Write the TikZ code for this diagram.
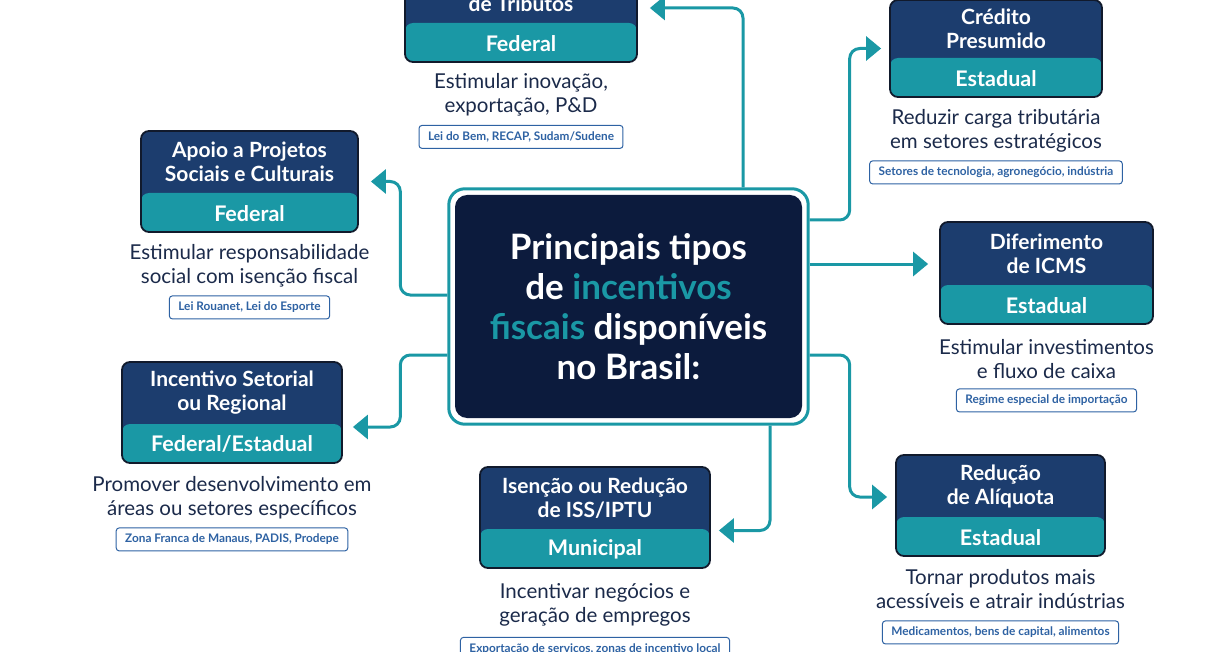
\documentclass[tikz,border=0pt]{standalone}
\usepackage{fontspec}
\setmainfont{Lato}
\usepackage{tikz}
\usetikzlibrary{arrows.meta, positioning, fit}
\definecolor{navy}{HTML}{1C3D6E}
\definecolor{noite}{HTML}{0C1B3D}
\definecolor{azulpet}{HTML}{1A98A5}
\definecolor{borda}{HTML}{111A2C}
\definecolor{tinta}{HTML}{1B2A4A}
\definecolor{azulselo}{HTML}{2E62A3}
\tikzstyle{tipo} = [rectangle, rounded corners=8pt, draw=borda, line width=1.8pt, fill=navy, inner sep=0pt, path picture={\fill[azulpet] ([yshift=39pt]path picture bounding box.south west) rectangle (path picture bounding box.south east);}]
\tikzstyle{titulo} = [text=white, font=\bfseries\fontsize{21}{24}\selectfont, align=center]
\tikzstyle{esfera} = [text=white, font=\bfseries\fontsize{21.5}{24}\selectfont]
\tikzstyle{meta} = [text=tinta, font=\fontsize{20.5}{24}\selectfont, align=center]
\tikzstyle{selo} = [rectangle, rounded corners=3pt, draw=azulselo, line width=1pt, fill=white, text=azulselo, font=\bfseries\fontsize{11.8}{13}\selectfont, minimum height=23pt, inner xsep=9pt]
\tikzstyle{nucleo} = [rectangle, rounded corners=12pt, fill=noite, minimum width=347pt, minimum height=223pt, text=white, font=\bfseries\fontsize{35}{40}\selectfont, align=center]
\tikzstyle{moldura} = [rectangle, rounded corners=16pt, draw=azulpet, line width=3pt]
\tikzstyle{conn} = [draw=azulpet, line width=3pt, rounded corners=10pt, -{Triangle[width=24pt,length=15pt]}]

\begin{document}
\begin{tikzpicture}[x=1pt, y=-1pt]

\useasboundingbox (0,0) rectangle (1230,652);
\clip (0,0) rectangle (1230,652);

% centro
\node[nucleo] (centro) at (628.5,306.5) {Principais tipos\\de \textcolor{azulpet}{incentivos}\\\textcolor{azulpet}{fiscais} disponíveis\\no Brasil:};
\node[moldura, fit=(centro), inner sep=6pt] (moldura) {};

% tributos (topo)
\node[tipo, minimum width=232pt, minimum height=101pt] (tributos) at (521,11.5) {};
\node[titulo] (tributost) at ([yshift=7.5pt]tributos.center) {de Tributos};
\node[esfera] (tributose) at ([yshift=19.5pt]tributos.south) {Federal};
\node[meta] (tributosm) at ([yshift=-32pt]tributos.south) {Estimular inovação,\\exportação, P\&D};
\node[selo] (tributoss) at ([yshift=-74pt]tributos.south) {Lei do Bem, RECAP, Sudam/Sudene};

% credito presumido
\node[tipo, minimum width=212pt, minimum height=97pt] (credito) at (996,48.5) {};
\node[titulo] (creditot) at ([yshift=19.5pt]credito.center) {Crédito\\Presumido};
\node[esfera] (creditoe) at ([yshift=19.5pt]credito.south) {Estadual};
\node[meta] (creditom) at ([yshift=-32.5pt]credito.south) {Reduzir carga tributária\\em setores estratégicos};
\node[selo] (creditos) at ([yshift=-74.5pt]credito.south) {Setores de tecnologia, agronegócio, indústria};

% apoio a projetos
\node[tipo, minimum width=217pt, minimum height=101pt] (apoio) at (249.5,181.5) {};
\node[titulo] (apoiot) at ([yshift=19.5pt]apoio.center) {Apoio a Projetos\\Sociais e Culturais};
\node[esfera] (apoioe) at ([yshift=19.5pt]apoio.south) {Federal};
\node[meta] (apoiom) at ([yshift=-33pt]apoio.south) {Estimular responsabilidade\\social com isenção fiscal};
\node[selo] (apoios) at ([yshift=-74.5pt]apoio.south) {Lei Rouanet, Lei do Esporte};

% diferimento
\node[tipo, minimum width=213pt, minimum height=102pt] (diferimento) at (1046.5,273) {};
\node[titulo] (diferimentot) at ([yshift=19.5pt]diferimento.center) {Diferimento\\de ICMS};
\node[esfera] (diferimentoe) at ([yshift=19.5pt]diferimento.south) {Estadual};
\node[meta] (diferimentom) at ([yshift=-34pt]diferimento.south) {Estimular investimentos\\e fluxo de caixa};
\node[selo] (diferimentos) at ([yshift=-75.5pt]diferimento.south) {Regime especial de importação};

% incentivo setorial
\node[tipo, minimum width=220pt, minimum height=101pt] (incentivo) at (232,412.5) {};
\node[titulo] (incentivot) at ([yshift=19.5pt]incentivo.center) {Incentivo Setorial\\ou Regional};
\node[esfera] (incentivoe) at ([yshift=19.5pt]incentivo.south) {Federal/Estadual};
\node[meta] (incentivom) at ([yshift=-34pt]incentivo.south) {Promover desenvolvimento em\\áreas ou setores específicos};
\node[selo] (incentivos) at ([yshift=-75.5pt]incentivo.south) {Zona Franca de Manaus, PADIS, Prodepe};

% isencao iss/iptu
\node[tipo, minimum width=230pt, minimum height=101pt] (isencao) at (595,517.5) {};
\node[titulo] (isencaot) at ([yshift=19.5pt]isencao.center) {Isenção ou Redução\\de ISS/IPTU};
\node[esfera] (isencaoe) at ([yshift=19.5pt]isencao.south) {Municipal};
\node[meta] (isencaom) at ([yshift=-36pt]isencao.south) {Incentivar negócios e\\geração de empregos};
\node[selo] (isencaos) at ([yshift=-80pt]isencao.south) {Exportação de serviços, zonas de incentivo local};

% reducao de aliquota
\node[tipo, minimum width=209pt, minimum height=101pt] (reducao) at (1000.5,505.5) {};
\node[titulo] (reducaot) at ([yshift=19.5pt]reducao.center) {Redução\\de Alíquota};
\node[esfera] (reducaoe) at ([yshift=19.5pt]reducao.south) {Estadual};
\node[meta] (reducaom) at ([yshift=-32.5pt]reducao.south) {Tornar produtos mais\\acessíveis e atrair indústrias};
\node[selo] (reducaos) at ([yshift=-75.5pt]reducao.south) {Medicamentos, bens de capital, alimentos};

% conectores
\coordinate (d0) at ([yshift=42.5pt]moldura.east);
\draw[conn, shorten >=12pt] ([xshift=114.5pt]moldura.north) |- ([yshift=3.5pt]tributos.east);
\draw[conn, shorten >=8pt] ([yshift=86.5pt]moldura.east) -- ++(40,0) |- (credito.west);
\draw[conn, shorten >=11pt] (d0) -- (d0 -| diferimento.west);
\draw[conn, shorten >=8pt] ([yshift=-48.5pt]moldura.east) -- ++(40,0) |- ([yshift=8.5pt]reducao.west);
\draw[conn, shorten >=8pt] ([xshift=141.5pt]moldura.south) |- ([yshift=-13pt]isencao.east);
\draw[conn, shorten >=10pt] ([yshift=-48.5pt]moldura.west) -- ++(-47,0) |- ([yshift=-14.5pt]incentivo.east);
\draw[conn, shorten >=12pt] ([yshift=11.5pt]moldura.west) -- ++(-47,0) |- (apoio.east);

\end{tikzpicture}
\end{document}
